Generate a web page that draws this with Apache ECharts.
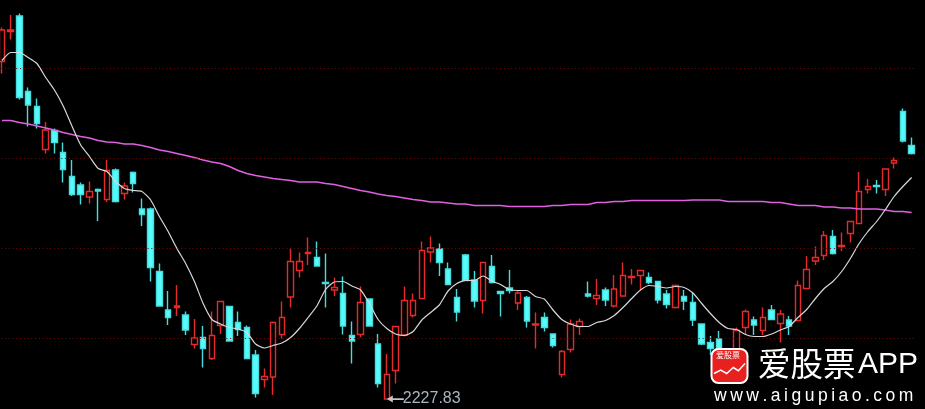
<!DOCTYPE html>
<html>
<head>
<meta charset="utf-8">
<style>
  html, body { margin: 0; padding: 0; background: #000; }
  #main { width: 925px; height: 409px; }
</style>
<script src="https://cdn.jsdelivr.net/npm/echarts@6/dist/echarts.min.js"></script>
</head>
<body>
<div id="main"></div>
<script>
// K线: 开 收 低 高
var opens = [
  2903,2963,2994,2843,2813,2727,2765,2721,2673,2656,
  2632,2647,2627,2686,2639,2681,2608,2608,2483,2406,
  2411,2396,2337,2351,2309,2375,2413,2381,2371,2316,
  2267,2272,2357,2432,2485,2519,2511,2461,2446,2439,
  2355,2357,2428,2338,2228,2285,2356,2395,2429,2522,
  2528,2488,2431,2516,2466,2425,2493,2443,2450,2420,
  2431,2376,2391,2358,2277,2327,2373,2438,2429,2446,
  2414,2434,2471,2475,2471,2463,2438,2411,2433,2421,
  2378,2341,2348,2322,2310,2371,2386,2365,2406,2379,
  2386,2385,2449,2504,2515,2553,2533,2559,2579,2647,
  2655,2647,2700,2803,2735
];
var closes = [
  2966,2966,2831,2816,2779,2766,2741,2687,2637,2637,
  2643,2644,2685,2623,2654,2659,2597,2491,2414,2391,
  2414,2366,2350,2329,2355,2423,2344,2367,2309,2239,
  2273,2381,2391,2503,2503,2521,2494,2459,2451,2374,
  2344,2421,2374,2259,2277,2373,2425,2425,2525,2530,
  2501,2457,2402,2465,2424,2501,2461,2439,2445,2440,
  2384,2378,2371,2335,2323,2378,2383,2434,2435,2426,
  2448,2475,2473,2485,2461,2426,2417,2455,2424,2386,
  2338,2329,2312,2286,2365,2403,2376,2391,2387,2398,
  2374,2455,2487,2511,2555,2519,2535,2583,2643,2653,
  2653,2688,2705,2744,2719
];
var lows = [
  2879,2947,2827,2773,2769,2719,2719,2661,2634,2617,
  2619,2584,2622,2621,2627,2641,2574,2463,2414,2376,
  2394,2356,2329,2291,2306,2358,2344,2354,2309,2231,
  2251,2236,2349,2411,2471,2496,2494,2411,2434,2357,
  2299,2351,2374,2251,2227.83,2259,2353,2391,2429,2501,
  2474,2457,2383,2465,2411,2399,2459,2393,2439,2406,
  2371,2329,2363,2331,2271,2321,2356,2431,2416,2414,
  2411,2434,2457,2446,2458,2419,2409,2409,2406,2374,
  2336,2316,2302,2276,2296,2356,2356,2356,2387,2341,
  2356,2385,2447,2496,2506,2517,2524,2541,2579,2639,
  2639,2634,2689,2741,2717
];
var highs = [
  2971,2996,2999,2851,2829,2782,2769,2741,2706,2661,
  2663,2649,2706,2689,2661,2683,2629,2611,2499,2444,
  2456,2403,2388,2374,2403,2423,2413,2403,2375,2326,
  2289,2383,2423,2529,2521,2551,2543,2519,2471,2473,
  2383,2453,2428,2358,2318,2374,2453,2439,2543,2553,
  2539,2501,2448,2518,2484,2501,2516,2443,2486,2444,
  2434,2401,2401,2359,2326,2387,2389,2463,2468,2451,
  2476,2501,2488,2485,2481,2463,2446,2457,2446,2440,
  2379,2354,2364,2326,2371,2407,2393,2411,2416,2406,
  2394,2465,2514,2533,2564,2566,2561,2583,2682,2668,
  2666,2688,2711,2809,2751
];
// 短期均线
var maShort = [
  2905,2921,2921,2911,2899,2871,2846,2814,2774,2736,
  2713,2689,2683,2663,2649,2645,2643,2626,2593,2563,
  2529,2499,2463,2419,2387,2378,2371,2368,2361,2338,
  2330,2335,2340,2351,2369,2391,2414,2447,2462,2463,
  2454,2446,2419,2387,2369,2358,2355,2363,2386,2401,
  2416,2444,2459,2465,2465,2474,2464,2457,2447,2445,
  2445,2433,2428,2406,2387,2378,2373,2373,2381,2385,
  2395,2411,2429,2446,2455,2453,2450,2453,2451,2440,
  2419,2399,2381,2369,2367,2357,2353,2353,2358,2366,
  2373,2391,2407,2429,2449,2463,2483,2509,2539,2563,
  2583,2607,2633,2653,2671
];
// 长期均线
var maLong = [
  2785,2785,2781,2778,2774,2770,2766,2761,2757,2753,
  2750,2745,2742,2741,2738,2738,2735,2731,2726,2723,
  2719,2715,2711,2706,2702,2699,2693,2685,2679,2675,
  2672,2669,2667,2665,2662,2662,2662,2659,2657,2653,
  2649,2645,2642,2638,2635,2633,2630,2627,2625,2622,
  2622,2620,2618,2618,2615,2615,2615,2615,2613,2613,
  2613,2613,2613,2615,2615,2617,2617,2617,2621,2621,
  2623,2623,2625,2625,2625,2625,2625,2625,2625,2626,
  2626,2626,2626,2623,2623,2623,2623,2623,2621,2621,
  2618,2615,2615,2615,2612,2612,2610,2610,2608,2608,
  2608,2606,2603,2603,2601
];
var gridLevels = [2350, 2530, 2710, 2890];
var lowestIndex = 44;
var lowestValue = 2227.83;

var candleData = opens.map(function (o, i) {
  return [o, closes[i], lows[i], highs[i]];
});
var categories = opens.map(function (o, i) { return i; });

var myChart = echarts.init(document.getElementById('main'));
var option = {
  animation: false,
  backgroundColor: '#000000',
  grid: { left: -2.4, top: 0, width: 918.4, height: 409, outerBoundsMode: 'none' },
  xAxis: {
    type: 'category',
    data: categories,
    show: false
  },
  yAxis: {
    type: 'value',
    min: 2208,
    max: 3026,
    show: false,
    splitLine: { show: false }
  },
  series: [
    {
      type: 'candlestick',
      data: candleData,
      barWidth: 6,
      clip: false,
      itemStyle: {
        color: '#000000',
        color0: '#54FCFC',
        borderColor: '#E62A2A',
        borderColor0: '#48DCDC',
        borderWidth: 1.4
      },
      markLine: {
        silent: true,
        symbol: 'none',
        animation: false,
        label: { show: false },
        lineStyle: { color: '#7A0A0A', type: [1, 2.75], width: 1 },
        data: gridLevels.map(function (v) { return { yAxis: v }; })
      },
      markPoint: {
        silent: true,
        animation: false,
        data: [{
          coord: [lowestIndex, lowestValue],
          symbol: 'path://M0 3 L6 0 L6 2.2 L17 2.2 L17 3.8 L6 3.8 L6 6 Z',
          symbolSize: [17, 7],
          symbolOffset: [8.5, 0],
          itemStyle: { color: '#C4C4C4' },
          label: {
            show: true,
            position: 'right',
            distance: 0,
            offset: [-1, 0],
            formatter: '' + lowestValue,
            color: '#A9B4C2',
            fontFamily: 'Liberation Sans',
            fontSize: 16
          }
        }]
      }
    },
    {
      type: 'line',
      data: maLong,
      symbol: 'none',
      lineStyle: { color: '#E060E0', width: 1.5 }
    },
    {
      type: 'line',
      data: maShort,
      symbol: 'none',
      smooth: 0.2,
      lineStyle: { color: '#D8D8D8', width: 1.2 }
    }
  ],
  graphic: [
    { type: 'rect', z: 100, shape: { x: 711.5, y: 349, width: 36, height: 34, r: 7 },
      style: { fill: '#E8201E', stroke: '#FFFFFF', lineWidth: 2 } },
    { type: 'polyline', z: 101,
      shape: { points: [[714, 373.5], [720.7, 370], [726.7, 373.5], [733.3, 367.5], [738.3, 370.7], [745, 363.5]] },
      style: { stroke: '#FFFFFF', fill: null, lineWidth: 1.5 } },
    { type: 'text', z: 101, x: 716, y: 351,
      style: { text: '爱股票', fill: '#FFFFFF', font: '8px "Noto Sans CJK SC"' } },
    { type: 'text', z: 100, x: 758, y: 347,
      style: { text: '爱股票', fill: '#FFFFFF', font: '32.5px "Noto Sans CJK SC"' } },
    { type: 'text', z: 100, x: 858, y: 350,
      style: { text: 'APP', fill: '#FFFFFF', font: '30px "Liberation Sans"' } },
    { type: 'text', z: 100, x: 714, y: 387,
      style: { text: 'www.aigupiao.com'.split('').join('\u2009'), fill: '#FFFFFF', font: '17.5px "Liberation Sans"' } }
  ]
};
myChart.setOption(option);
</script>
</body>
</html>
